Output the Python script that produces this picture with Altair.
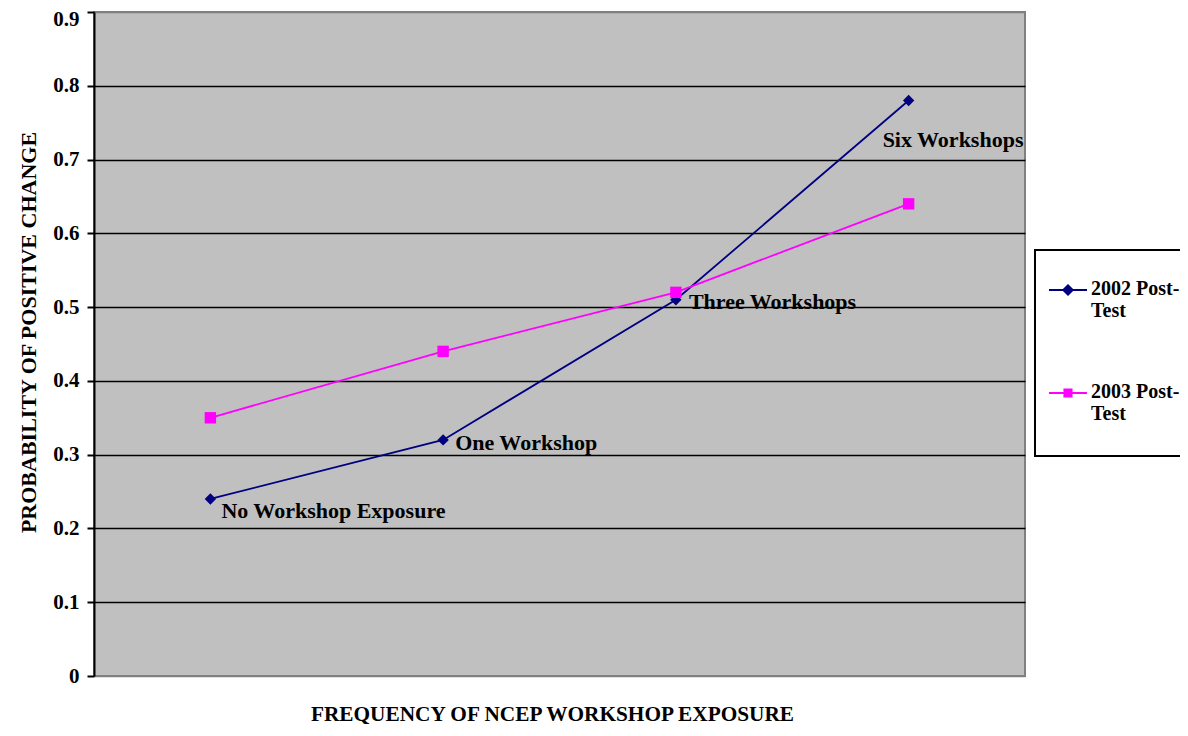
import altair as alt
import pandas as pd

categories = ["No Workshop Exposure", "One Workshop", "Three Workshops", "Six Workshops"]
series = ["2002 Post-Test", "2003 Post-Test"]
post_2002 = [0.24, 0.32, 0.51, 0.78]
post_2003 = [0.35, 0.44, 0.52, 0.64]
y_ticks = [0, 0.1, 0.2, 0.3, 0.4, 0.5, 0.6, 0.7, 0.8, 0.9]

colors = ["#000080", "#FF00FF"]
FONT = "Liberation Serif"

rows = []
for c, v in zip(categories, post_2002):
    rows.append({"category": c, "series": series[0], "value": v})
for c, v in zip(categories, post_2003):
    rows.append({"category": c, "series": series[1], "value": v})
df = pd.DataFrame(rows)

x_enc = alt.X(
    "category:N",
    sort=categories,
    scale=alt.Scale(type="point", padding=0.5),
    axis=alt.Axis(
        labels=False, ticks=False, domain=False, grid=False,
        title="FREQUENCY OF NCEP WORKSHOP EXPOSURE",
        titleFont=FONT, titleFontSize=21.3, titleFontWeight="bold", titleColor="black",
        titleX=458, titleY=38, titleAlign="center", titleBaseline="middle",
    ),
)
y_enc = alt.Y(
    "value:Q",
    scale=alt.Scale(domain=[0, 0.9], nice=False, zero=True),
    axis=alt.Axis(
        values=y_ticks,
        labelExpr="datum.value == 0 ? '0' : format(datum.value, '.1f')",
        labelFont=FONT, labelFontSize=21, labelFontWeight="bold", labelColor="black",
        labelPadding=8,
        labelOffset={"condition": {"test": "datum.value > 0.85", "value": 7}, "value": 0},
        domainColor="black", domainWidth=2,
        tickColor="black", tickWidth=2, tickSize=7,
        grid=True,
        gridColor={"condition": {"test": "datum.value < 0.05 || datum.value > 0.85", "value": "#808080"}, "value": "black"},
        gridWidth=1.5,
        title="PROBABILITY OF POSITIVE CHANGE",
        titleFont=FONT, titleFontSize=22, titleFontWeight="bold", titleColor="black",
        titleX=-66, titleY=320, titleAlign="center", titleBaseline="middle", titleAngle=270,
    ),
)

diamond_path = "M-0.79,0.53H1.21V0.63H-0.79Z M0.21,0.26L0.53,0.58L0.21,0.9L-0.11,0.58Z"
square_path = "M-0.79,0.53H1.21V0.63H-0.79Z M-0.03,0.34H0.45V0.82H-0.03Z"

leg = alt.Legend(
    title=None, orient="none", legendX=941, legendY=238, direction="vertical",
    padding=10, rowPadding=20, labelOffset=8,
    labelFont=FONT, labelFontSize=20, labelFontWeight="bold", labelColor="black",
    labelExpr="[slice(datum.label, 0, 10), slice(datum.label, 10), '']",
    labelBaseline="top", labelLimit=300,
    symbolSize=1444, symbolStrokeWidth=0, symbolOpacity=1, symbolFillColor="black",
    fillColor="white", strokeColor="black",
)

lines = alt.Chart(df).mark_line(strokeWidth=1.8).encode(
    x=x_enc, y=y_enc,
    color=alt.Color("series:N", scale=alt.Scale(domain=series, range=colors), legend=None),
)

points = alt.Chart(df).mark_point(filled=True, opacity=1, size=130).encode(
    x=x_enc, y=y_enc,
    color=alt.Color("series:N", scale=alt.Scale(domain=series, range=colors), legend=None),
    shape=alt.Shape("series:N", scale=alt.Scale(domain=series, range=["diamond", "square"]), legend=None),
)

legend_layer = alt.Chart(df).mark_point(filled=True, opacity=0).encode(
    x=x_enc, y=y_enc,
    color=alt.Color("series:N", scale=alt.Scale(domain=series, range=colors), legend=leg),
    shape=alt.Shape("series:N", scale=alt.Scale(domain=series, range=[diamond_path, square_path]), legend=leg),
)

offsets = [(11, 12), (12, 3), (13, 2), (-26, 39)]
labels = []
for cat, (ddx, ddy) in zip(categories, offsets):
    labels.append(
        alt.Chart(df[df["series"] == series[0]]).transform_filter(
            alt.datum.category == cat
        ).mark_text(
            align="left", baseline="middle", dx=ddx, dy=ddy,
            font=FONT, fontSize=22, fontWeight="bold", color="black",
        ).encode(x=x_enc, y=y_enc, text="category:N")
    )

chart = alt.layer(lines, points, legend_layer, *labels).resolve_scale(
    shape="independent", color="independent"
).properties(
    width=931, height=664,
    padding={"left": 86, "top": 4, "right": 155, "bottom": 48},
    autosize=alt.AutoSizeParams(type="none"),
).configure_view(
    fill="#C0C0C0", stroke="#808080", strokeWidth=2,
).configure_legend(
    strokeWidth=2,
)

chart.save("out.html", embed_options={"renderer": "svg", "actions": False})
